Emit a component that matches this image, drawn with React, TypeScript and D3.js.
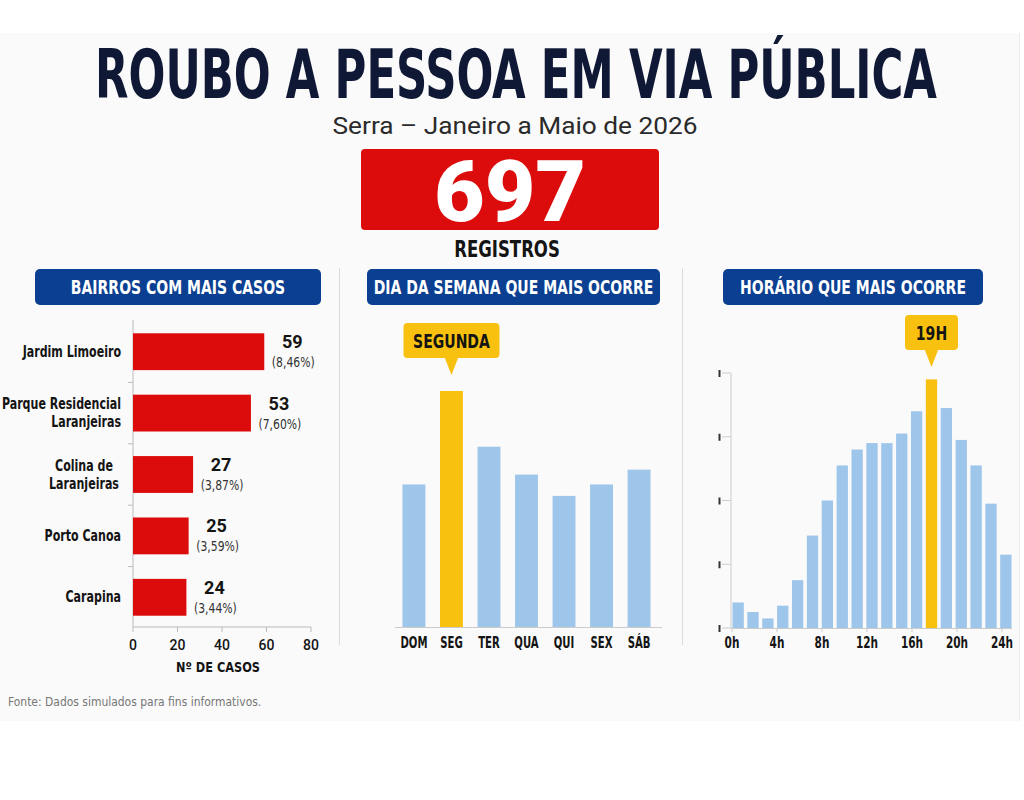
import React from "react";
import * as d3 from "d3";

const bairros = ["Jardim Limoeiro", "Parque Residencial\nLaranjeiras", "Colina de\nLaranjeiras", "Porto Canoa", "Carapina"];
const bairroCasos = [59, 53, 27, 25, 24];
const bairroPct = ["(8,46%)", "(7,60%)", "(3,87%)", "(3,59%)", "(3,44%)"];
const casosTicks = [0, 20, 40, 60, 80];

const dias = ["DOM", "SEG", "TER", "QUA", "QUI", "SEX", "SÁB"];
const diaValores = [87, 144, 110, 93, 80, 87, 96];
const diaDestaque = "SEG";
const diaCallout = "SEGUNDA";

const horaBarras = ["b0", "b1", "b2", "b3", "b4", "b5", "b6", "b7", "b8", "b9", "b10", "b11", "b12", "b13", "b14", "b15", "b16", "b17", "b18"];
const horaValores = [8, 5, 3, 7, 15, 29, 40, 51, 56, 58, 58, 61, 68, 78, 69, 59, 51, 39, 23];
const horaDestaque = "b13";
const horaCallout = "19H";
const horaTicks = [0, 4, 8, 12, 16, 20, 24];
const horaYTicks = [0, 20, 40, 60, 80];

const FONT = "'DejaVu Sans Condensed', 'DejaVu Sans', sans-serif";
const FONT_REG = "'Roboto', 'Liberation Sans', sans-serif";
const RED = "#DC0C0C";
const BLUE = "#0B3F91";
const YELLOW = "#F8C110";
const LIGHT = "#9EC5EA";
const DARK = "#141414";
const NAVY = "#0F1834";

type CProps = {
  x: number;
  y: number;
  sx?: number;
  anchor?: "start" | "middle" | "end";
  size: number;
  fill?: string;
  bold?: boolean;
  family?: string;
  children: React.ReactNode;
};

function CText({ x, y, sx = 0.8, anchor = "middle", size, fill = DARK, bold = true, family = FONT, children }: CProps) {
  return (
    <text transform={`translate(${x},${y}) scale(${sx},1)`} textAnchor={anchor} fill={fill}
      fontFamily={family} fontWeight={bold ? "bold" : "normal"} fontSize={size}>
      {children}
    </text>
  );
}

function Header({ x, w, label }: { x: number; w: number; label: string }) {
  return (
    <g>
      <rect x={x} y={269} width={w} height={36} rx={5} fill={BLUE} />
      <CText x={x + w / 2} y={294} sx={0.82} size={19} fill="#fff">{label}</CText>
    </g>
  );
}

function Callout({ cx, tipY, w, h, label }: { cx: number; tipY: number; w: number; h: number; label: string }) {
  const top = tipY - 17 - h;
  return (
    <g>
      <rect x={cx - w / 2} y={top} width={w} height={h} rx={4} fill={YELLOW} />
      <path d={`M${cx - 7},${top + h - 1} L${cx},${tipY} L${cx + 7},${top + h - 1} Z`} fill={YELLOW} />
      <CText x={cx} y={top + h / 2 + 7} sx={0.78} size={20}>{label}</CText>
    </g>
  );
}

export default function App() {
  // Left chart
  const xL = d3.scaleLinear().domain([0, 80]).range([133, 311]);
  const yL = d3.scaleBand<string>().domain(bairros).range([321, 628]).paddingInner(0.4).paddingOuter(0.2);
  const yLBounds = bairros.slice(1).map((b) => (yL(b) as number) - (yL.step() * yL.paddingInner()) / 2);

  // Middle chart
  const xM = d3.scaleBand<string>().domain(dias).range([395, 658]).paddingInner(0.39).paddingOuter(0.2);
  const yM = d3.scaleLinear().domain([0, 144]).range([627, 391]);

  // Right chart
  const xR = d3.scaleBand<string>().domain(horaBarras).range([731, 1013]).paddingInner(0.24).paddingOuter(0.1);
  const xRh = d3.scaleLinear().domain([0, 24]).range([732, 1002]);
  const yR = d3.scaleLinear().domain([0, 80]).range([628, 373]);

  const segX = (xM(diaDestaque) as number) + xM.bandwidth() / 2;
  const h19X = (xR(horaDestaque) as number) + xR.bandwidth() / 2;

  return (
    <svg width={1024} height={800} style={{ position: "absolute", left: 0, top: 0, background: "#fff" }}>
      <rect x={0} y={33} width={1019} height={688} fill="#FAFAFA" />
      <line x1={1019.5} x2={1019.5} y1={33} y2={721} stroke="#eee" />

      {/* Title block */}
      <text x={516} y={98} textAnchor="middle" fill={NAVY} fontFamily={FONT} fontWeight="bold" fontSize={68}
        textLength={842} lengthAdjust="spacingAndGlyphs">
        ROUBO A PESSOA EM VIA PÚBLICA
      </text>
      <text x={515} y={134} textAnchor="middle" fill="#2a2a2a" fontFamily={FONT_REG} fontSize={24}
        textLength={365} lengthAdjust="spacingAndGlyphs">
        Serra – Janeiro a Maio de 2026
      </text>
      <rect x={361} y={149} width={298} height={81} rx={4} fill={RED} />
      <text x={510} y={221} textAnchor="middle" fill="#fff" fontFamily={FONT_REG} fontWeight={900} fontSize={86}
        textLength={152} lengthAdjust="spacingAndGlyphs">
        697
      </text>
      <CText x={507} y={257} sx={0.8} size={23}>REGISTROS</CText>

      <Header x={35} w={286} label="BAIRROS COM MAIS CASOS" />
      <Header x={367} w={293} label="DIA DA SEMANA QUE MAIS OCORRE" />
      <Header x={723} w={260} label="HORÁRIO QUE MAIS OCORRE" />

      <line x1={339.5} x2={339.5} y1={268} y2={645} stroke="#dcdcdc" />
      <line x1={682.5} x2={682.5} y1={268} y2={645} stroke="#dcdcdc" />

      {/* Left chart */}
      <line x1={133} x2={133} y1={320} y2={627} stroke="#bbb" />
      {yLBounds.map((y, i) => (
        <line key={i} x1={128} x2={133} y1={y} y2={y} stroke="#bbb" />
      ))}
      <line x1={133} x2={311} y1={627} y2={627} stroke="#bbb" />
      {casosTicks.map((t) => (
        <g key={t}>
          <line x1={xL(t)} x2={xL(t)} y1={627} y2={632} stroke="#bbb" />
          <text x={xL(t)} y={650} textAnchor="middle" fill={DARK} fontFamily={FONT_REG} fontWeight={500} fontSize={14}>
            {t}
          </text>
        </g>
      ))}
      <CText x={218} y={672} sx={0.9} size={14}>Nº DE CASOS</CText>
      {bairros.map((b, i) => {
        const y0 = yL(b) as number;
        const bw = yL.bandwidth();
        const lines = b.split("\n");
        const centered = lines.length === 2 && b.startsWith("Colina");
        const endX = xL(bairroCasos[i]);
        return (
          <g key={b}>
            <rect x={xL(0)} y={y0} width={endX - xL(0)} height={bw} fill={RED} />
            {lines.map((ln, j) => (
              <CText key={j} x={centered ? 84 : 121}
                y={y0 + bw / 2 + 5 + (j - (lines.length - 1) / 2) * 18}
                anchor={centered ? "middle" : "end"} sx={0.82} size={15}>
                {ln}
              </CText>
            ))}
            <text x={endX + 28} y={y0 + 15} textAnchor="middle" fill={DARK} fontFamily={FONT_REG} fontWeight="bold" fontSize={18}>
              {bairroCasos[i]}
            </text>
            <CText x={endX + 29} y={y0 + 34} sx={0.86} size={14} bold={false} fill="#333">{bairroPct[i]}</CText>
          </g>
        );
      })}

      {/* Middle chart */}
      {dias.map((d, i) => (
        <g key={d}>
          <rect x={xM(d)} y={yM(diaValores[i])} width={xM.bandwidth()} height={627 - yM(diaValores[i])}
            fill={d === diaDestaque ? YELLOW : LIGHT} />
          <CText x={(xM(d) as number) + xM.bandwidth() / 2} y={648} sx={0.75} size={15}>{d}</CText>
        </g>
      ))}
      <line x1={395} x2={662} y1={627.5} y2={627.5} stroke="#ccc" />
      <Callout cx={segX} tipY={375} w={96} h={35} label={diaCallout} />

      {/* Right chart */}
      <line x1={731} x2={731} y1={373} y2={628} stroke="#ccc" />
      {horaYTicks.map((t) => (
        <g key={t}>
          <line x1={722} x2={731} y1={yR(t)} y2={yR(t)} stroke="#ccc" />
          <line x1={719.5} x2={719.5} y1={yR(t) - 3} y2={yR(t) + 4} stroke="#333" strokeWidth={2} />
        </g>
      ))}
      {horaBarras.map((b, i) => (
        <rect key={b} x={xR(b)} y={yR(horaValores[i])} width={xR.bandwidth()} height={628 - yR(horaValores[i])}
          fill={b === horaDestaque ? YELLOW : LIGHT} />
      ))}
      <line x1={731} x2={1012} y1={628.5} y2={628.5} stroke="#ccc" />
      {horaTicks.map((t) => (
        <g key={t}>
          <line x1={xRh(t)} x2={xRh(t)} y1={628} y2={632} stroke="#ccc" />
          <CText x={xRh(t)} y={648} sx={0.78} size={15}>{`${t}h`}</CText>
        </g>
      ))}
      <Callout cx={h19X} tipY={367} w={53} h={35} label={horaCallout} />

      {/* Footer */}
      <CText x={8} y={706} anchor="start" sx={0.92} size={13} bold={false} fill="#777">
        Fonte: Dados simulados para fins informativos.
      </CText>
    </svg>
  );
}
